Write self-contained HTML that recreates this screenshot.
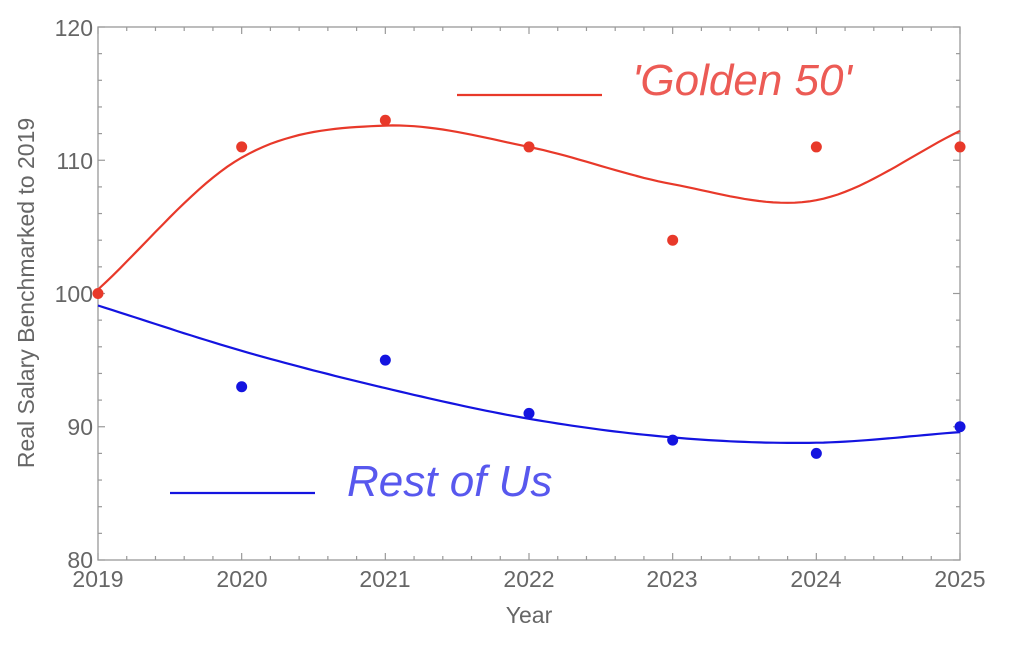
<!DOCTYPE html>
<html><head><meta charset="utf-8"><style>
html,body{margin:0;padding:0;background:#fff;}
svg{display:block;font-family:"Liberation Sans",sans-serif;}
</style></head><body>
<svg id="s" width="1024" height="653" viewBox="0 0 1024 653" xmlns="http://www.w3.org/2000/svg">
<g id="ax" stroke="#999" stroke-width="1.3" fill="none">
<rect x="98" y="27" width="862" height="533"/>
</g>
<g id="ticks" stroke="#999" stroke-width="1.2"></g>
<g fill="#666" font-size="23" text-anchor="end">
<text x="93" y="36">120</text><text x="93" y="169">110</text><text x="93" y="302">100</text>
<text x="93" y="435">90</text><text x="93" y="568">80</text>
</g>
<g fill="#666" font-size="23" text-anchor="middle">
<text x="98" y="587">2019</text><text x="242" y="587">2020</text><text x="385" y="587">2021</text>
<text x="529" y="587">2022</text><text x="672" y="587">2023</text><text x="816" y="587">2024</text><text x="960" y="587">2025</text>
<text x="529" y="623" font-size="23">Year</text>
<text transform="translate(34,293) rotate(-90)" font-size="23">Real Salary Benchmarked to 2019</text>
</g>
<path id="rc" fill="none" stroke="#e8392a" stroke-width="2.2"/>
<path id="bc" fill="none" stroke="#1414e0" stroke-width="2.2"/>
<g id="dots"></g>
<line x1="457" y1="95" x2="602" y2="95" stroke="#e8392a" stroke-width="2.2"/>
<text x="632" y="95" font-size="44" font-style="italic" fill="#ec5b55">'Golden 50'</text>
<line x1="170" y1="493" x2="315" y2="493" stroke="#1414e0" stroke-width="2.2"/>
<text x="347" y="496" font-size="44" font-style="italic" fill="#5858ee">Rest of Us</text>
</svg>
<script>
var X=function(t){return 98+t*143.67},Y=function(v){return 560-(v-80)*13.325};
var tk=document.getElementById('ticks'),h='';
for(var i=0;i<=30;i++){var x=98+i*862/30,l=(i%5==0)?7:4;h+='<line x1="'+x+'" y1="560" x2="'+x+'" y2="'+(560-l)+'"/><line x1="'+x+'" y1="27" x2="'+x+'" y2="'+(27+l)+'"/>';}
for(var i=0;i<=20;i++){var y=27+i*533/20,l=(i%5==0)?7:4;h+='<line x1="98" y1="'+y+'" x2="'+(98+l)+'" y2="'+y+'"/><line x1="960" y1="'+y+'" x2="'+(960-l)+'" y2="'+y+'"/>';}
tk.innerHTML=h;
function cr(p){var d='M'+X(0)+','+Y(p[0]);for(var s=0;s<6;s++){for(var k=1;k<=20;k++){var u=k/20,p0=p[Math.max(s-1,0)],p1=p[s],p2=p[s+1],p3=p[Math.min(s+2,6)];
if(s==0)p0=2*p1-p2;if(s==5)p3=2*p2-p1;
var v=0.5*((2*p1)+(-p0+p2)*u+(2*p0-5*p1+4*p2-p3)*u*u+(-p0+3*p1-3*p2+p3)*u*u*u);d+=' L'+X(s+u).toFixed(1)+','+Y(v).toFixed(1);}}return d;}
document.getElementById('rc').setAttribute('d',cr([100.3,110.2,112.6,111,108.2,107.0,112.2]));
document.getElementById('bc').setAttribute('d',cr([99.1,95.7,92.9,90.6,89.2,88.8,89.6]));
var r=[100,111,113,111,104,111,111],b=[null,93,95,91,89,88,90],g='';
for(var i=0;i<7;i++){g+='<circle cx="'+X(i)+'" cy="'+Y(r[i])+'" r="5.5" fill="#e8392a"/>';if(b[i]!=null)g+='<circle cx="'+X(i)+'" cy="'+Y(b[i])+'" r="5.5" fill="#1414e0"/>';}
document.getElementById('dots').innerHTML=g;
</script>
</body></html>
